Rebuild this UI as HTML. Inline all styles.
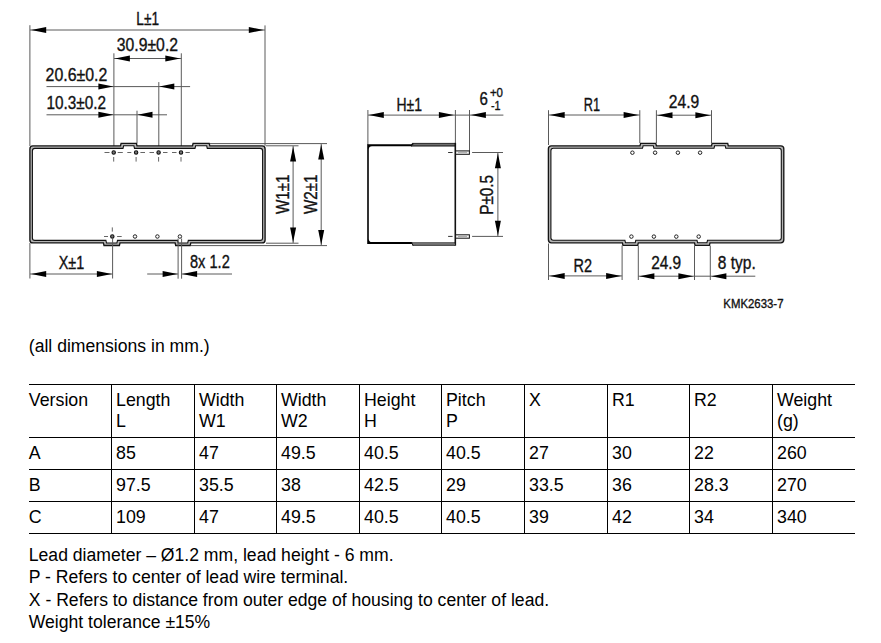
<!DOCTYPE html>
<html><head><meta charset="utf-8"><title>Housing dimensions</title>
<style>
html,body{margin:0;padding:0;background:#fff;}
body{width:881px;height:643px;position:relative;overflow:hidden;font-family:"Liberation Sans",sans-serif;color:#000;}
svg{position:absolute;left:0;top:0;}
svg text{font-family:"Liberation Sans",sans-serif;fill:#111;stroke:#111;stroke-width:0.35px;}
.t{position:absolute;font-size:17.8px;line-height:21.3px;white-space:nowrap;}
.hl{position:absolute;left:28.5px;width:826.5px;height:1px;background:#000;}
.vl{position:absolute;top:384px;height:150px;width:1px;background:#000;}
.p{position:absolute;left:28.8px;font-size:17.6px;line-height:22px;white-space:nowrap;}
</style></head><body>
<svg width="881" height="320" viewBox="0 0 881 320">
<line x1="29.9" y1="25.2" x2="29.9" y2="146" stroke="#5a5a5a" stroke-width="1.0" />
<line x1="265.0" y1="25.4" x2="265.0" y2="146" stroke="#5a5a5a" stroke-width="1.0" />
<line x1="30" y1="30.0" x2="265" y2="30.0" stroke="#5a5a5a" stroke-width="1.0" />
<polygon points="31.20,30.00 46.20,27.00 46.20,33.00" fill="#000"/>
<polygon points="263.80,30.00 248.80,27.00 248.80,33.00" fill="#000"/>
<text transform="translate(136.30,25.1) scale(0.7592,1)" font-size="18">L±1</text>
<line x1="113.9" y1="53.3" x2="113.9" y2="146" stroke="#5a5a5a" stroke-width="1.0" />
<line x1="181.3" y1="53.3" x2="181.3" y2="146" stroke="#5a5a5a" stroke-width="1.0" />
<line x1="114" y1="58.5" x2="181.3" y2="58.5" stroke="#5a5a5a" stroke-width="1.0" />
<polygon points="114.90,58.50 129.90,55.50 129.90,61.50" fill="#000"/>
<polygon points="180.30,58.50 165.30,55.50 165.30,61.50" fill="#000"/>
<text transform="translate(116.80,51.0) scale(0.8763,1)" font-size="18">30.9±0.2</text>
<line x1="46.5" y1="86.6" x2="190.1" y2="86.6" stroke="#5a5a5a" stroke-width="1.0" />
<polygon points="113.40,86.60 98.40,83.60 98.40,89.60" fill="#000"/>
<polygon points="159.30,86.60 174.30,83.60 174.30,89.60" fill="#000"/>
<line x1="158.8" y1="82.1" x2="158.8" y2="146" stroke="#5a5a5a" stroke-width="1.0" />
<text transform="translate(45.60,80.6) scale(0.8835,1)" font-size="18">20.6±0.2</text>
<line x1="46.5" y1="114.8" x2="167" y2="114.8" stroke="#5a5a5a" stroke-width="1.0" />
<polygon points="113.40,114.80 98.40,111.80 98.40,117.80" fill="#000"/>
<polygon points="137.50,114.80 152.50,111.80 152.50,117.80" fill="#000"/>
<line x1="137" y1="110.7" x2="137" y2="143.5" stroke="#5a5a5a" stroke-width="1.0" />
<text transform="translate(46.40,109.0) scale(0.8520,1)" font-size="18">10.3±0.2</text>
<path d="M32.9,145.9 L120.5,145.9 L121.1,143.3 L136.4,143.3 L137.0,145.9 L192.5,145.9 L193.1,143.3 L209.20000000000002,143.3 L209.8,145.9 L262.1,145.9 Q265.1,145.9 265.1,148.9 L265.1,239.9 Q265.1,242.9 262.1,242.9 L190.8,242.9 L190.20000000000002,245.5 L175.7,245.5 L175.1,242.9 L120.0,242.9 L119.4,245.5 L104.0,245.5 L103.4,242.9 L32.9,242.9 Q29.9,242.9 29.9,239.9 L29.9,148.9 Q29.9,145.9 32.9,145.9 Z" fill="#b4b4b4" stroke="#151515" stroke-width="1.35"/>
<path d="M34.9,148.4 L123.0,148.4 L123.6,145.8 L133.9,145.8 L134.5,148.4 L195.0,148.4 L195.6,145.8 L206.70000000000002,145.8 L207.3,148.4 L260.1,148.4 Q262.6,148.4 262.6,150.9 L262.6,237.9 Q262.6,240.4 260.1,240.4 L188.3,240.4 L187.70000000000002,243.0 L178.2,243.0 L177.6,240.4 L117.5,240.4 L116.9,243.0 L106.5,243.0 L105.9,240.4 L34.9,240.4 Q32.4,240.4 32.4,237.9 L32.4,150.9 Q32.4,148.4 34.9,148.4 Z" fill="#fff" stroke="#111" stroke-width="1.1"/>
<circle cx="113.7" cy="152.5" r="1.7" fill="#777" stroke="#111" stroke-width="1.1"/>
<line x1="113.7" y1="157" x2="113.7" y2="161.6" stroke="#555" stroke-width="0.9" />
<circle cx="136.1" cy="152.5" r="1.7" fill="#777" stroke="#111" stroke-width="1.1"/>
<line x1="136.1" y1="157" x2="136.1" y2="161.6" stroke="#555" stroke-width="0.9" />
<circle cx="158.6" cy="152.5" r="1.7" fill="#777" stroke="#111" stroke-width="1.1"/>
<line x1="158.6" y1="157" x2="158.6" y2="161.6" stroke="#555" stroke-width="0.9" />
<circle cx="181.0" cy="152.5" r="1.7" fill="#777" stroke="#111" stroke-width="1.1"/>
<line x1="181.0" y1="157" x2="181.0" y2="161.6" stroke="#555" stroke-width="0.9" />
<line x1="104.5" y1="152.5" x2="109.5" y2="152.5" stroke="#555" stroke-width="0.9" />
<line x1="117.7" y1="152.5" x2="122.8" y2="152.5" stroke="#555" stroke-width="0.9" />
<line x1="127.3" y1="152.5" x2="131.3" y2="152.5" stroke="#555" stroke-width="0.9" />
<line x1="140.4" y1="152.5" x2="145" y2="152.5" stroke="#555" stroke-width="0.9" />
<line x1="149.5" y1="152.5" x2="154" y2="152.5" stroke="#555" stroke-width="0.9" />
<line x1="163" y1="152.5" x2="167.5" y2="152.5" stroke="#555" stroke-width="0.9" />
<line x1="172" y1="152.5" x2="176.5" y2="152.5" stroke="#555" stroke-width="0.9" />
<line x1="185.5" y1="152.5" x2="189.8" y2="152.5" stroke="#555" stroke-width="0.9" />
<circle cx="112.3" cy="236.5" r="1.7" fill="#777" stroke="#111" stroke-width="1.1"/>
<line x1="104" y1="236.5" x2="108" y2="236.5" stroke="#555" stroke-width="0.9" />
<line x1="117.1" y1="236.5" x2="121.7" y2="236.5" stroke="#555" stroke-width="0.9" />
<line x1="112.3" y1="227.4" x2="112.3" y2="231.6" stroke="#555" stroke-width="0.9" />
<circle cx="135.0" cy="236.5" r="1.75" fill="#fff" stroke="#222" stroke-width="1.0"/>
<circle cx="157.4" cy="236.5" r="1.75" fill="#fff" stroke="#222" stroke-width="1.0"/>
<circle cx="179.9" cy="236.5" r="1.75" fill="#fff" stroke="#222" stroke-width="1.0"/>
<line x1="29.9" y1="243" x2="29.9" y2="278.5" stroke="#5a5a5a" stroke-width="1.0" />
<line x1="112.6" y1="238.5" x2="112.6" y2="278.5" stroke="#5a5a5a" stroke-width="1.0" />
<line x1="30" y1="274" x2="112.6" y2="274" stroke="#5a5a5a" stroke-width="1.0" />
<polygon points="31.20,274.00 46.20,271.00 46.20,277.00" fill="#000"/>
<polygon points="111.90,274.00 96.90,271.00 96.90,277.00" fill="#000"/>
<text transform="translate(58.70,269.3) scale(0.8025,1)" font-size="18">X±1</text>
<line x1="178.1" y1="238.5" x2="178.1" y2="278.7" stroke="#5a5a5a" stroke-width="1.0" />
<line x1="181.6" y1="238.5" x2="181.6" y2="278.7" stroke="#5a5a5a" stroke-width="1.0" />
<line x1="147.2" y1="274" x2="178.1" y2="274" stroke="#5a5a5a" stroke-width="1.0" />
<polygon points="177.60,274.00 162.60,271.00 162.60,277.00" fill="#000"/>
<line x1="181.6" y1="274" x2="232" y2="274" stroke="#5a5a5a" stroke-width="1.0" />
<polygon points="182.10,274.00 197.10,271.00 197.10,277.00" fill="#000"/>
<text transform="translate(190.00,268.1) scale(0.8114,1)" font-size="18">8x 1.2</text>
<line x1="266" y1="145.8" x2="298.5" y2="145.8" stroke="#5a5a5a" stroke-width="1.0" />
<line x1="266" y1="243.2" x2="298.5" y2="243.2" stroke="#5a5a5a" stroke-width="1.0" />
<line x1="210" y1="143.6" x2="327" y2="143.6" stroke="#5a5a5a" stroke-width="1.0" />
<line x1="191" y1="245.6" x2="327" y2="245.6" stroke="#5a5a5a" stroke-width="1.0" />
<line x1="293.1" y1="146" x2="293.1" y2="243" stroke="#5a5a5a" stroke-width="1.0" />
<polygon points="293.10,146.60 290.10,161.60 296.10,161.60" fill="#000"/>
<polygon points="293.10,242.60 290.10,227.60 296.10,227.60" fill="#000"/>
<line x1="321.2" y1="144" x2="321.2" y2="245.4" stroke="#5a5a5a" stroke-width="1.0" />
<polygon points="321.20,144.40 318.20,159.40 324.20,159.40" fill="#000"/>
<polygon points="321.20,245.00 318.20,230.00 324.20,230.00" fill="#000"/>
<text transform="translate(288.9,214.00) rotate(-90) scale(0.8443,1)" font-size="18">W1±1</text>
<text transform="translate(316.8,214.00) rotate(-90) scale(0.8443,1)" font-size="18">W2±1</text>
<line x1="367.9" y1="110" x2="367.9" y2="145" stroke="#5a5a5a" stroke-width="1.0" />
<line x1="455.4" y1="110" x2="455.4" y2="143.5" stroke="#5a5a5a" stroke-width="1.0" />
<line x1="469.5" y1="110" x2="469.5" y2="151" stroke="#5a5a5a" stroke-width="1.0" />
<line x1="368" y1="115.1" x2="503.4" y2="115.1" stroke="#5a5a5a" stroke-width="1.0" />
<polygon points="368.80,115.10 383.80,112.10 383.80,118.10" fill="#000"/>
<polygon points="453.90,115.10 438.90,112.10 438.90,118.10" fill="#000"/>
<polygon points="470.90,115.10 485.90,112.10 485.90,118.10" fill="#000"/>
<text transform="translate(396.40,110.6) scale(0.7781,1)" font-size="18">H±1</text>
<text transform="translate(479.60,104.6) scale(0.8615,1)" font-size="17.5">6</text>
<text transform="translate(489.90,96.7) scale(0.9193,1)" font-size="12.5">+0</text>
<text transform="translate(491.00,110.0) scale(0.8000,1)" font-size="13.5">-1</text>
<path d="M367.2,144.3 L412,144.3 L412,146.3 L372,146.3 Q368.8,146.3 368.8,149.5 L368.8,239 Q368.8,242.1 372,242.1 L412,242.1 L412,244.1 L367.2,244.1 Z" fill="#000"/>
<rect x="412.5" y="143.4" width="42.6" height="2.6" fill="#707070"/>
<line x1="412.2" y1="143.4" x2="455.3" y2="143.4" stroke="#1a1a1a" stroke-width="0.9" />
<line x1="411" y1="146.0" x2="455.3" y2="146.0" stroke="#111" stroke-width="1.0" />
<path d="M411,144.3 L413,142.95 L413.6,143.9 L412,146.3 Z" fill="#111"/>
<rect x="454.5" y="142.9" width="1.6" height="102.8" fill="#111"/>
<rect x="412.5" y="243.4" width="42.6" height="1.8" fill="#808080"/>
<line x1="411" y1="242.9" x2="455.3" y2="242.9" stroke="#111" stroke-width="1.0" />
<line x1="412.8" y1="245.3" x2="455.3" y2="245.3" stroke="#1a1a1a" stroke-width="0.9" />
<path d="M411,242.1 L412,242.1 L413.6,245.75 L412.6,245.75 Z" fill="#111"/>
<rect x="455.6" y="150.9" width="13.8" height="3.4" fill="#f4f4f4" stroke="#111" stroke-width="1"/>
<line x1="458" y1="152.6" x2="467" y2="152.6" stroke="#999" stroke-width="0.8" />
<line x1="448.1" y1="152.5" x2="452.6" y2="152.5" stroke="#333" stroke-width="1" />
<line x1="472.1" y1="152.5" x2="503" y2="152.5" stroke="#5a5a5a" stroke-width="1.0" />
<rect x="455.6" y="234.8" width="13.8" height="3.4" fill="#f4f4f4" stroke="#111" stroke-width="1"/>
<line x1="458" y1="236.5" x2="467" y2="236.5" stroke="#999" stroke-width="0.8" />
<line x1="448.1" y1="236.4" x2="452.6" y2="236.4" stroke="#333" stroke-width="1" />
<line x1="472.1" y1="236.4" x2="503" y2="236.4" stroke="#5a5a5a" stroke-width="1.0" />
<line x1="497.9" y1="152.6" x2="497.9" y2="236.2" stroke="#5a5a5a" stroke-width="1.0" />
<polygon points="497.90,153.20 494.90,168.20 500.90,168.20" fill="#000"/>
<polygon points="497.90,235.80 494.90,220.80 500.90,220.80" fill="#000"/>
<text transform="translate(493.3,214.80) rotate(-90) scale(0.8507,1)" font-size="18">P±0.5</text>
<path d="M551.4,145.8 L640.0,145.8 L640.6,143.3 L655.8,143.3 L656.4,145.8 L711.5,145.8 L712.1,143.3 L727.6999999999999,143.3 L728.3,145.8 L780.8,145.8 Q783.8,145.8 783.8,148.8 L783.8,239.8 Q783.8,242.8 780.8,242.8 L710.0,242.8 L709.4,245.3 L695.1,245.3 L694.5,242.8 L638.3,242.8 L637.6999999999999,245.3 L623.0,245.3 L622.4,242.8 L551.4,242.8 Q548.4,242.8 548.4,239.8 L548.4,148.8 Q548.4,145.8 551.4,145.8 Z" fill="#b4b4b4" stroke="#151515" stroke-width="1.35"/>
<path d="M553.4,148.3 L642.5,148.3 L643.1,145.8 L653.3,145.8 L653.9,148.3 L714.0,148.3 L714.6,145.8 L725.1999999999999,145.8 L725.8,148.3 L778.8,148.3 Q781.3,148.3 781.3,150.8 L781.3,237.8 Q781.3,240.3 778.8,240.3 L707.5,240.3 L706.9,242.8 L697.6,242.8 L697.0,240.3 L635.8,240.3 L635.1999999999999,242.8 L625.5,242.8 L624.9,240.3 L553.4,240.3 Q550.9,240.3 550.9,237.8 L550.9,150.8 Q550.9,148.3 553.4,148.3 Z" fill="#fff" stroke="#111" stroke-width="1.1"/>
<circle cx="632.4" cy="152.7" r="1.75" fill="#fff" stroke="#222" stroke-width="1.0"/>
<circle cx="655.1" cy="152.7" r="1.75" fill="#fff" stroke="#222" stroke-width="1.0"/>
<circle cx="677.9" cy="152.7" r="1.75" fill="#fff" stroke="#222" stroke-width="1.0"/>
<circle cx="700.1" cy="152.7" r="1.75" fill="#fff" stroke="#222" stroke-width="1.0"/>
<circle cx="631.4" cy="236.6" r="1.75" fill="#fff" stroke="#222" stroke-width="1.0"/>
<circle cx="653.9" cy="236.6" r="1.75" fill="#fff" stroke="#222" stroke-width="1.0"/>
<circle cx="676.3" cy="236.6" r="1.75" fill="#fff" stroke="#222" stroke-width="1.0"/>
<circle cx="698.7" cy="236.6" r="1.75" fill="#fff" stroke="#222" stroke-width="1.0"/>
<line x1="548.5" y1="110.2" x2="548.5" y2="145" stroke="#5a5a5a" stroke-width="1.0" />
<line x1="639.8" y1="110.2" x2="639.8" y2="143" stroke="#5a5a5a" stroke-width="1.0" />
<line x1="656.4" y1="110.2" x2="656.4" y2="143" stroke="#5a5a5a" stroke-width="1.0" />
<line x1="711.5" y1="110.2" x2="711.5" y2="143" stroke="#5a5a5a" stroke-width="1.0" />
<line x1="548.6" y1="115" x2="639.8" y2="115" stroke="#5a5a5a" stroke-width="1.0" />
<polygon points="549.70,115.00 564.70,112.00 564.70,118.00" fill="#000"/>
<polygon points="638.60,115.00 623.60,112.00 623.60,118.00" fill="#000"/>
<line x1="656.4" y1="115.2" x2="711.5" y2="115.2" stroke="#5a5a5a" stroke-width="1.0" />
<polygon points="657.50,115.20 672.50,112.20 672.50,118.20" fill="#000"/>
<polygon points="710.40,115.20 695.40,112.20 695.40,118.20" fill="#000"/>
<text transform="translate(583.70,110.6) scale(0.7087,1)" font-size="18">R1</text>
<text transform="translate(668.80,108.3) scale(0.8673,1)" font-size="18">24.9</text>
<line x1="548.5" y1="243.5" x2="548.5" y2="280" stroke="#5a5a5a" stroke-width="1.0" />
<line x1="622.1" y1="245.5" x2="622.1" y2="280" stroke="#5a5a5a" stroke-width="1.0" />
<line x1="638.3" y1="245.5" x2="638.3" y2="280" stroke="#5a5a5a" stroke-width="1.0" />
<line x1="694.5" y1="245.5" x2="694.5" y2="280" stroke="#5a5a5a" stroke-width="1.0" />
<line x1="710.3" y1="245.5" x2="710.3" y2="280" stroke="#5a5a5a" stroke-width="1.0" />
<line x1="548.6" y1="275.9" x2="622.1" y2="275.9" stroke="#5a5a5a" stroke-width="1.0" />
<polygon points="549.70,275.90 564.70,272.90 564.70,278.90" fill="#000"/>
<polygon points="621.10,275.90 606.10,272.90 606.10,278.90" fill="#000"/>
<line x1="638.3" y1="276.2" x2="755.3" y2="276.2" stroke="#5a5a5a" stroke-width="1.0" />
<polygon points="639.40,276.20 654.40,273.20 654.40,279.20" fill="#000"/>
<polygon points="693.40,276.20 678.40,273.20 678.40,279.20" fill="#000"/>
<polygon points="711.40,276.20 726.40,273.20 726.40,279.20" fill="#000"/>
<text transform="translate(573.50,271.8) scale(0.8065,1)" font-size="18">R2</text>
<text transform="translate(651.20,269.2) scale(0.8559,1)" font-size="18">24.9</text>
<text transform="translate(717.80,268.7) scale(0.8614,1)" font-size="18">8 typ.</text>
<text transform="translate(723.30,308.4) scale(0.8920,1)" font-size="12.8">KMK2633-7</text>
</svg>
<div class="p" style="top:335.1px">(all dimensions in mm.)</div>
<div class="hl" style="top:384px"></div>
<div class="hl" style="top:437px"></div>
<div class="hl" style="top:469px"></div>
<div class="hl" style="top:501px"></div>
<div class="hl" style="top:533px"></div>
<div class="vl" style="left:111px"></div>
<div class="vl" style="left:194px"></div>
<div class="vl" style="left:276px"></div>
<div class="vl" style="left:359px"></div>
<div class="vl" style="left:441px"></div>
<div class="vl" style="left:524px"></div>
<div class="vl" style="left:607px"></div>
<div class="vl" style="left:689px"></div>
<div class="vl" style="left:772px"></div>
<div class="t" style="left:28.8px;top:389.8px">Version<br></div>
<div class="t" style="left:116.0px;top:389.8px">Length<br>L</div>
<div class="t" style="left:199.0px;top:389.8px">Width<br>W1</div>
<div class="t" style="left:281.0px;top:389.8px">Width<br>W2</div>
<div class="t" style="left:364.0px;top:389.8px">Height<br>H</div>
<div class="t" style="left:446.0px;top:389.8px">Pitch<br>P</div>
<div class="t" style="left:529.0px;top:389.8px">X<br></div>
<div class="t" style="left:612.0px;top:389.8px">R1<br></div>
<div class="t" style="left:694.0px;top:389.8px">R2<br></div>
<div class="t" style="left:777.0px;top:389.8px">Weight<br>(g)</div>
<div class="t" style="left:28.8px;top:443.0px">A</div>
<div class="t" style="left:116.0px;top:443.0px">85</div>
<div class="t" style="left:199.0px;top:443.0px">47</div>
<div class="t" style="left:281.0px;top:443.0px">49.5</div>
<div class="t" style="left:364.0px;top:443.0px">40.5</div>
<div class="t" style="left:446.0px;top:443.0px">40.5</div>
<div class="t" style="left:529.0px;top:443.0px">27</div>
<div class="t" style="left:612.0px;top:443.0px">30</div>
<div class="t" style="left:694.0px;top:443.0px">22</div>
<div class="t" style="left:777.0px;top:443.0px">260</div>
<div class="t" style="left:28.8px;top:474.8px">B</div>
<div class="t" style="left:116.0px;top:474.8px">97.5</div>
<div class="t" style="left:199.0px;top:474.8px">35.5</div>
<div class="t" style="left:281.0px;top:474.8px">38</div>
<div class="t" style="left:364.0px;top:474.8px">42.5</div>
<div class="t" style="left:446.0px;top:474.8px">29</div>
<div class="t" style="left:529.0px;top:474.8px">33.5</div>
<div class="t" style="left:612.0px;top:474.8px">36</div>
<div class="t" style="left:694.0px;top:474.8px">28.3</div>
<div class="t" style="left:777.0px;top:474.8px">270</div>
<div class="t" style="left:28.8px;top:506.8px">C</div>
<div class="t" style="left:116.0px;top:506.8px">109</div>
<div class="t" style="left:199.0px;top:506.8px">47</div>
<div class="t" style="left:281.0px;top:506.8px">49.5</div>
<div class="t" style="left:364.0px;top:506.8px">40.5</div>
<div class="t" style="left:446.0px;top:506.8px">40.5</div>
<div class="t" style="left:529.0px;top:506.8px">39</div>
<div class="t" style="left:612.0px;top:506.8px">42</div>
<div class="t" style="left:694.0px;top:506.8px">34</div>
<div class="t" style="left:777.0px;top:506.8px">340</div>
<div class="p" style="top:543.6px">Lead diameter – Ø1.2 mm, lead height - 6 mm.</div>
<div class="p" style="top:565.7px">P - Refers to center of lead wire terminal.</div>
<div class="p" style="top:589.2px">X - Refers to distance from outer edge of housing to center of lead.</div>
<div class="p" style="top:610.5px">Weight tolerance ±15%</div>
</body></html>
